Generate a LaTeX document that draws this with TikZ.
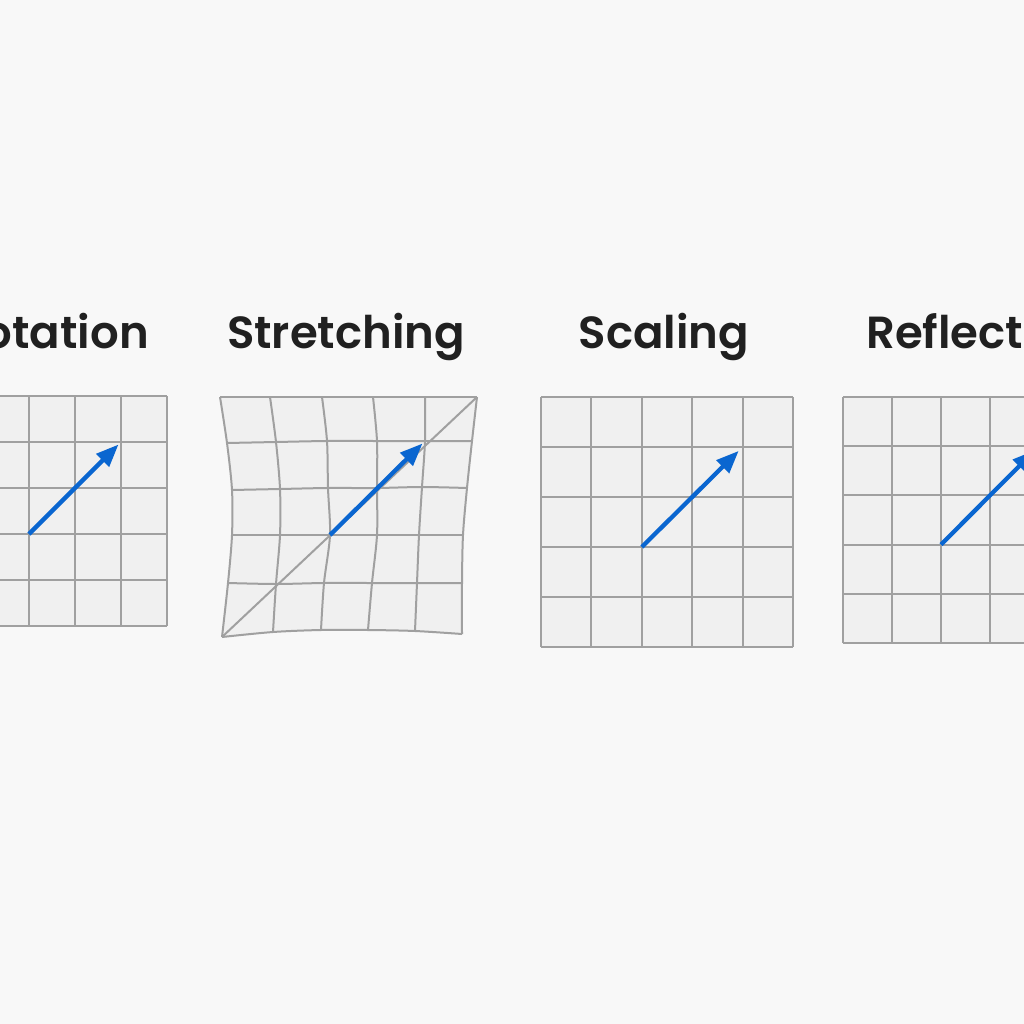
\documentclass[tikz,border=0pt]{standalone}
\usepackage{fontspec}
\setmainfont{Poppins}[BoldFont={* SemiBold}]
\usepackage{tikz}
\usetikzlibrary{arrows}

\definecolor{bgcol}{HTML}{F8F8F8}
\definecolor{cellcol}{HTML}{F0F0F0}
\definecolor{linecol}{HTML}{A0A0A0}
\definecolor{veccol}{HTML}{0A66D0}
\definecolor{textcol}{HTML}{202020}

\tikzset{
  title/.style={text=textcol,inner sep=0pt,font=\fontsize{45}{50}\selectfont\bfseries},
  gridline/.style={linecol,line width=2pt},
  vec/.style={veccol,line width=4.3pt,->,>=triangle 45,shorten >=4pt}
}

\begin{document}
\begin{tikzpicture}[x=1pt,y=-1pt]
\useasboundingbox (0,0) rectangle (1024,1024);
\clip (0,0) rectangle (1024,1024);
\fill[bgcol] (0,0) rectangle (1024,1024);

% titles
\node[title,anchor=base east] (rottitle) at (149,348) {Rotation};
\node[title,anchor=base] (strtitle) at (346,348) {Stretching};
\node[title,anchor=base] (scatitle) at (664,348) {Scaling};
\node[title,anchor=base west] (reftitle) at (866,348) {Reflection};

% rotation
\begin{scope}[shift={(-63,626)},x=46pt,y=46pt]
    \fill[cellcol] (0,0) rectangle (5,5);
    \draw[gridline] (0,0) grid[step=1] (5,5);
    \coordinate (rot0) at (2,2);
    \coordinate (rot1) at (4,4);
    \draw[vec] (rot0) -- (rot1);
\end{scope}

% stretching
\begin{scope}
    \foreach \n/\x/\y in {
      00/220/397, 10/270/397, 20/322/397, 30/373/397, 40/425/397, 50/477/397,
      01/227/443, 11/276/442, 21/327/441, 31/377/441, 41/425/441, 51/472/441,
      02/232/490, 12/280/489, 22/328/488, 32/377/488, 42/422/487, 52/467/488,
      03/232/535, 13/280/535, 23/330/535, 33/377/535, 43/419/535, 53/463/535,
      04/228/583, 14/276/584, 24/324/583, 34/372/583, 44/417/583, 54/462/583,
      05/222/637, 15/273/632, 25/321/630, 35/368/630, 45/415/631, 55/462/634}
      \coordinate (s\n) at (\x,\y);
    \fill[cellcol] (s00) -- (s10) -- (s20) -- (s30) -- (s40) -- (s50)
      -- (s51) -- (s52) -- (s53) -- (s54) -- (s55)
      -- (s45) -- (s35) -- (s25) -- (s15) -- (s05)
      -- (s04) -- (s03) -- (s02) -- (s01) -- cycle;
    \foreach \j in {0,...,5}
      \draw[gridline] plot[smooth] coordinates {(s0\j) (s1\j) (s2\j) (s3\j) (s4\j) (s5\j)};
    \foreach \i in {0,...,5}
      \draw[gridline] plot[smooth] coordinates {(s\i0) (s\i1) (s\i2) (s\i3) (s\i4) (s\i5)};
    \draw[gridline] (s05) -- (s50);
    \draw[vec] (s23) -- (s41);
\end{scope}

% scaling
\begin{scope}[shift={(541,647)},x=50.4pt,y=50pt]
    \fill[cellcol] (0,0) rectangle (5,5);
    \draw[gridline] (0,0) grid[step=1] (5,5);
    \coordinate (sca0) at (2,2);
    \coordinate (sca1) at (4,4);
    \draw[vec,shorten >=6pt] (sca0) -- (sca1);
\end{scope}

% reflection
\begin{scope}[shift={(843,643)},x=49pt,y=49.2pt]
    \fill[cellcol] (0,0) rectangle (5,5);
    \draw[gridline] (0,0) grid[step=1] (5,5);
    \coordinate (ref0) at (2,2);
    \coordinate (ref1) at (4,4);
    \draw[vec,shorten >=6pt] (ref0) -- (ref1);
\end{scope}
\end{tikzpicture}
\end{document}
